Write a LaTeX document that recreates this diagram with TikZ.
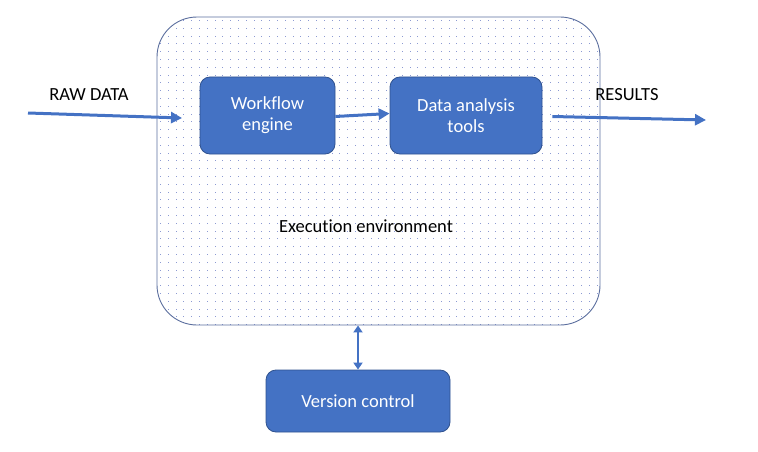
\documentclass[tikz,border=0pt]{standalone}
\usepackage{fontspec}
\setmainfont[Ligatures=NoCommon]{Carlito}
\usetikzlibrary{arrows.meta}
\definecolor{boxblue}{HTML}{4472C4}
\definecolor{boxedge}{HTML}{2F528F}
\definecolor{envedge}{HTML}{5B6E9E}
\definecolor{dotc}{HTML}{8C9AD2}
\begin{document}
\begin{tikzpicture}[x=1pt,y=-1pt,
  blk/.style={draw=boxedge,line width=0.8pt,fill=boxblue,rounded corners=10pt,text=white,font=\fontsize{18.5}{21}\selectfont,align=center,inner sep=0pt},
  flow/.style={draw=boxblue,line width=3pt,-{Triangle[length=11pt,width=11pt]}},
  dflow/.style={draw=boxblue,line width=2.2pt,{Triangle[length=7pt,width=9pt]}-{Triangle[length=7pt,width=9pt]}},
  lbl/.style={font=\fontsize{18.5}{21}\selectfont,text=black,inner sep=0pt}]
\useasboundingbox (0,0) rectangle (758,452);
% environment
\begin{scope}
\path[clip,rounded corners=40pt] (157,17) rectangle (600,325);
\foreach \i in {0,...,56}{\foreach \j in {0,...,39}{
  \fill[dotc] ({160+\i*7.8},{20+\j*7.8}) rectangle ++(1,1);}}
\end{scope}
\node[draw=envedge,line width=0.9pt,rounded corners=40pt,minimum width=443pt,minimum height=308pt,inner sep=0pt] (env) at (378.5,171) {};
\node[lbl] (envlbl) at (366,226) {Execution environment};
% blocks
\node[blk,minimum width=135pt,minimum height=77pt] (wf) at (267.5,115.5) {Workflow\\engine};
\node[blk,minimum width=152pt,minimum height=77pt] (da) at (466,115.5) {Data analysis\\tools};
\node[blk,minimum width=184pt,minimum height=62pt] (vc) at (358,401) {Version control};
% labels
\node[lbl] (raw) at (89,95) {RAW DATA};
\node[lbl] (res) at (627,95) {RESULTS};
% connectors
\coordinate (rawin) at (28,113);
\coordinate (rawend) at (182,118);
\coordinate (resout) at (706,120);
\draw[flow] (rawin) -- (rawend);
\draw[flow] ([yshift=-1pt]wf.east) -- ([yshift=2pt]da.west);
\draw[flow] ([yshift=-1pt,xshift=10pt]da.east) -- (resout);
\draw[dflow] (env.south -| vc.north) -- (vc.north);
\end{tikzpicture}
\end{document}
